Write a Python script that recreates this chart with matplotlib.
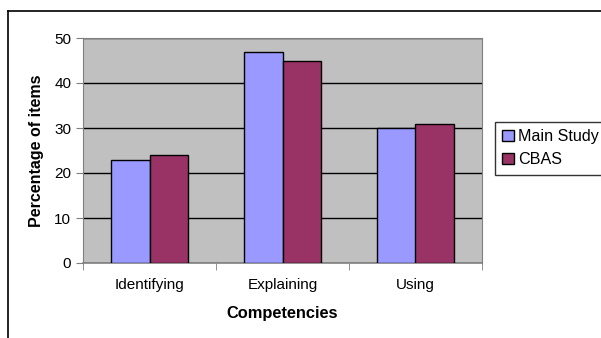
import numpy as np
import matplotlib.pyplot as plt
from matplotlib.lines import Line2D

plt.rcParams['font.family'] = ['Liberation Sans', 'DejaVu Sans']

categories = ["Identifying", "Explaining", "Using"]
main_study = [23, 47, 30]
cbas = [24, 45, 31]

fig = plt.figure(figsize=(6.01, 3.38), dpi=100)
ax = fig.add_axes([83 / 601, 75 / 338, 399 / 601, 225 / 338])

x = np.arange(len(categories))
w = 0.286
ax.bar(x - w / 2, main_study, w, color="#9999FF", edgecolor="black", linewidth=1, label="Main Study", zorder=3)
ax.bar(x + w / 2, cbas, w, color="#993366", edgecolor="black", linewidth=1, label="CBAS", zorder=3)

ax.set_facecolor("#C0C0C0")
ax.set_xlim(-0.5, 2.5)
ax.set_ylim(0, 50)
ax.set_yticks([0, 10, 20, 30, 40, 50])
ax.yaxis.grid(True, color="black", linewidth=1, zorder=1)
ax.set_axisbelow(True)

ax.set_xticks(x)
ax.set_xticklabels(categories)
ax.set_xticks([-0.5, 0.5, 1.5, 2.5], minor=True)
ax.tick_params(axis="x", which="major", length=0, pad=11, labelsize=11)
ax.tick_params(axis="x", which="minor", length=5, direction="out", color="#808080")
ax.tick_params(axis="y", length=5, direction="out", color="#808080", labelsize=11)

for side in ["top", "right", "left", "bottom"]:
    ax.spines[side].set_color("#808080")
ax.spines["bottom"].set_linewidth(1.2)

ax.set_xlabel("Competencies", fontweight="bold", fontsize=11.8, labelpad=10)
ax.set_ylabel("Percentage of items", fontweight="bold", fontsize=11.5, labelpad=7)

leg = ax.legend(loc="upper left", bbox_to_anchor=(495 / 601, 1 - 122 / 338), bbox_transform=fig.transFigure,
                frameon=True, fancybox=False, edgecolor="black", fontsize=11.6,
                handlelength=0.7, handleheight=0.7, handletextpad=0.3, borderpad=0.45,
                labelspacing=0.5, borderaxespad=0)
leg.get_frame().set_linewidth(1)

# outer chart frame
fig.add_artist(Line2D([8 / 601, 1], [1 - 11 / 338, 1 - 11 / 338], color="black", linewidth=1.2))
fig.add_artist(Line2D([8 / 601, 8 / 601], [0, 1 - 11 / 338], color="black", linewidth=1.2))

fig.savefig("out.png", dpi=100)
